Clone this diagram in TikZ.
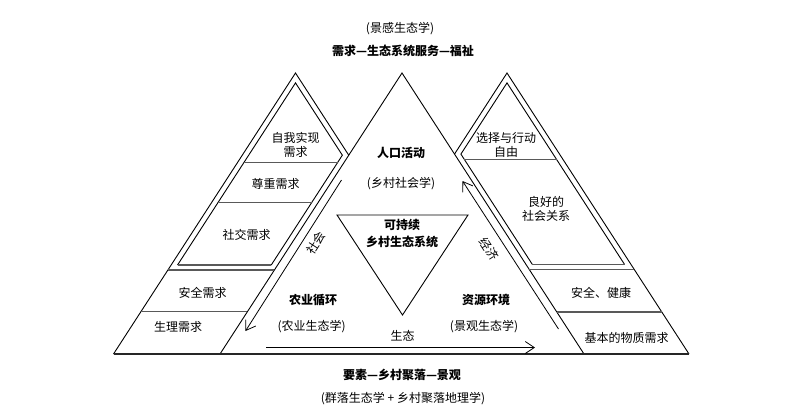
\documentclass[tikz,border=0pt]{standalone}
\usepackage{fontspec}
\setmainfont{Noto Sans CJK SC}
\usetikzlibrary{arrows.meta}
\tikzset{
  edgeline/.style={line width=0.9pt, black, line join=miter},
  divider/.style={line width=1.3pt, black!65},
  baseline/.style={line width=1.6pt, black!85},
  flowarrow/.style={line width=0.8pt, -{Straight Barb[length=9pt,width=12pt,line width=0.8pt]}},
  txt/.style={inner sep=0pt, align=center, font=\fontsize{12}{14}\selectfont},
  btxt/.style={inner sep=0pt, align=center, font=\bfseries\fontsize{12}{14}\selectfont},
}
\begin{document}
\begin{tikzpicture}[x=1pt,y=-1pt]
\useasboundingbox (0,0) rectangle (800,418);
% central triangle
\draw[edgeline] (402,73) -- (220,354) -- (584,354) -- cycle;
% left outer triangle
\draw[edgeline] (348.75,155.2) -- (295.5,73) -- (113.5,354);
% right outer triangle
\draw[edgeline] (454.5,154.1) -- (507,73) -- (689,354);
% base line
\draw[baseline] (113.5,354) -- (689,354);
% left inner polygon
\draw[edgeline] (177.54,265) -- (295.5,82.9) -- (342.35,155.2) -- (271.24,265);
\draw[divider] (177.54,265) -- (271.24,265);
\draw[divider] (243.8,162.7) -- (337.5,162.7);
\draw[divider] (217.9,202.7) -- (311.6,202.7);
\draw[divider] (167.9,270) -- (274.4,270);
\draw[divider] (140.9,311.7) -- (247.4,311.7);
% right inner polygon
\draw[edgeline] (532.4,264.5) -- (460.9,154.1) -- (507,82.9) -- (624.6,264.5);
\draw[divider] (532.4,264.5) -- (624.6,264.5);
\draw[divider] (464.3,159.3) -- (556.5,159.3);
\draw[divider] (529.3,269.5) -- (634.3,269.5);
\draw[divider] (556.8,312) -- (661.8,312);
% inverted triangle
\draw[edgeline] (337,215) -- (468,215) -- (402.5,315) -- cycle;
% arrows
\coordinate (socS) at (341.5,180);
\coordinate (socE) at (245.5,331);
\coordinate (ecoS) at (558.5,329);
\coordinate (ecoE) at (462.5,181);
\coordinate (ecolS) at (266,347.5);
\coordinate (ecolE) at (535,347.5);
\draw[flowarrow] (socS) -- (socE);
\draw[flowarrow] (ecoS) -- (ecoE);
\draw[flowarrow] (ecolS) -- (ecolE);
% top and bottom titles
\node[txt] (t1) at (400,29) {(景感生态学)};
\node[btxt] (t2) at (403,50.5) {需求—生态系统服务—福祉};
\node[btxt] (b1) at (402,375) {要素—乡村聚落—景观};
\node[txt] (b2) at (403,399) {(群落生态学 + 乡村聚落地理学)};
% central
\node[btxt] (pop) at (401,153) {人口活动};
\node[txt] (popsub) at (401,184) {(乡村社会学)};
\node[btxt, font=\bfseries\fontsize{12}{16.5}\selectfont] (sus) at (402,233.5) {可持续\\乡村生态系统};
\node[btxt] (agr) at (313,300) {农业循环};
\node[txt] (agrsub) at (311.7,326.7) {(农业生态学)};
\node[btxt] (res) at (486,300) {资源环境};
\node[txt] (ressub) at (484,326.7) {(景观生态学)};
\node[txt] (ecol) at (402.7,336) {生态};
\node[txt, rotate=57] (soc) at (316,243) {社会};
\node[txt, rotate=-57] (eco) at (489,249) {经济};
% left pyramid
\node[txt] (l1) at (295.7,145) {自我实现\\需求};
\node[txt] (l2) at (275.5,184) {尊重需求};
\node[txt] (l3) at (246.7,235) {社交需求};
\node[txt] (l4) at (202.5,292.5) {安全需求};
\node[txt] (l5) at (178,326.7) {生理需求};
% right pyramid
\node[txt] (r1) at (506,145) {选择与行动\\自由};
\node[txt] (r2) at (546,208.5) {良好的\\社会关系};
\node[txt] (r3) at (601,293) {安全、健康};
\node[txt] (r4) at (626.7,337.5) {基本的物质需求};
\end{tikzpicture}
\end{document}
